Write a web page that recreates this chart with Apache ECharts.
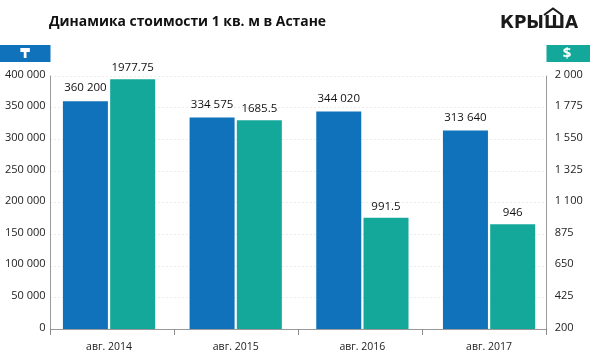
<!DOCTYPE html>
<html><head><meta charset="utf-8">
<style>html,body{margin:0;padding:0;background:#fff}#c{width:590px;height:363px}</style>
<script src="https://cdn.jsdelivr.net/npm/echarts@6/dist/echarts.min.js"></script>
</head><body><div id="c"></div>
<script>
const categories = ['авг. 2014','авг. 2015','авг. 2016','авг. 2017'];
const tengeValues = [360200,334575,344020,313640];
const usdValues = [1977.75,1685.5,991.5,946];
const font = '"Open Sans"';
const spaced = v => String(v).replace(/\B(?=(\d{3})+(?!\d))/g,' ');
const chart = echarts.init(document.getElementById('c'),null,{renderer:'canvas'});
const yL = {min:0,max:400000,interval:50000};
const yR = {min:200,max:2000,interval:225};
chart.setOption({
  animation:false,
  backgroundColor:'#fff',
  textStyle:{fontFamily:font},
  grid:[
    {left:45.7,right:37.6,top:76,bottom:34},
    {left:50.5,right:43.3,top:76,bottom:34}
  ],
  xAxis:[
    {type:'category',gridIndex:0,data:categories,
     axisLine:{show:false},axisTick:{show:false},
     axisLabel:{color:'#222',fontSize:10.5,margin:13,fontFamily:font}},
    {type:'category',gridIndex:1,data:categories,
     axisLine:{lineStyle:{color:'#9a9a9a',width:1}},
     axisTick:{show:true,length:6,lineStyle:{color:'#8a8a8a'}},
     axisLabel:{show:false}}
  ],
  yAxis:[
    {type:'value',gridIndex:0,...yL,show:false,splitLine:{show:false}},
    {type:'value',gridIndex:0,...yR,show:false,splitLine:{show:false}},
    {type:'value',gridIndex:1,...yL,
     axisLine:{show:true,lineStyle:{color:'#9a9a9a'}},axisTick:{show:false},
     axisLabel:{color:'#222',fontSize:11,margin:5,verticalAlign:'bottom',lineHeight:3,formatter:spaced,fontFamily:font},
     splitLine:{show:true,lineStyle:{color:'#d8d8d8',type:[1,3],width:1}}},
    {type:'value',gridIndex:1,...yR,position:'right',
     axisLine:{show:true,lineStyle:{color:'#9a9a9a'}},axisTick:{show:false},
     axisLabel:{color:'#222',fontSize:11,margin:8,verticalAlign:'bottom',lineHeight:3,formatter:spaced,fontFamily:font},
     splitLine:{show:false}}
  ],
  series:[
    {type:'bar',xAxisIndex:0,yAxisIndex:0,data:tengeValues,barWidth:45,barGap:'5%',
     itemStyle:{color:'#0f72bb'},
     label:{show:true,position:'top',distance:7,color:'#111',fontSize:11.5,fontFamily:font,formatter:p=>spaced(p.value)}},
    {type:'bar',xAxisIndex:0,yAxisIndex:1,data:usdValues,barWidth:45,barGap:'5%',
     itemStyle:{color:'#14a89b'},
     label:{show:true,position:'top',distance:5,color:'#111',fontSize:11.5,fontFamily:font,formatter:p=>String(p.value)}}
  ],
  graphic:[
    {type:'text',left:49,top:15,style:{text:'Динамика стоимости 1 кв. м в Астане',fontFamily:font,fontWeight:'bold',fontSize:13.9,fill:'#111'}},
    {type:'rect',shape:{x:0,y:45,width:50.5,height:17},style:{fill:'#0f72bb'}},
    {type:'text',x:25,y:54,style:{text:'₸',fontFamily:'"DejaVu Sans"',fontWeight:'bold',fontSize:14,fill:'#fff',align:'center',verticalAlign:'middle'}},
    {type:'rect',shape:{x:546.5,y:45,width:43.5,height:17},style:{fill:'#14a89b'}},
    {type:'text',x:567,y:53.5,style:{text:'$',fontFamily:font,fontWeight:'bold',fontSize:15,fill:'#fff',align:'center',verticalAlign:'middle'}},
    {type:'text',x:500,y:15,style:{text:'КРЫША',fontFamily:'"DejaVu Sans"',fontWeight:'bold',fontSize:17,fill:'#1a1a1a'}},
    {type:'polyline',shape:{points:[[544,15],[553,8.5],[562,15]]},style:{stroke:'#1a1a1a',lineWidth:2,fill:'none'}}
  ]
});
</script></body></html>
